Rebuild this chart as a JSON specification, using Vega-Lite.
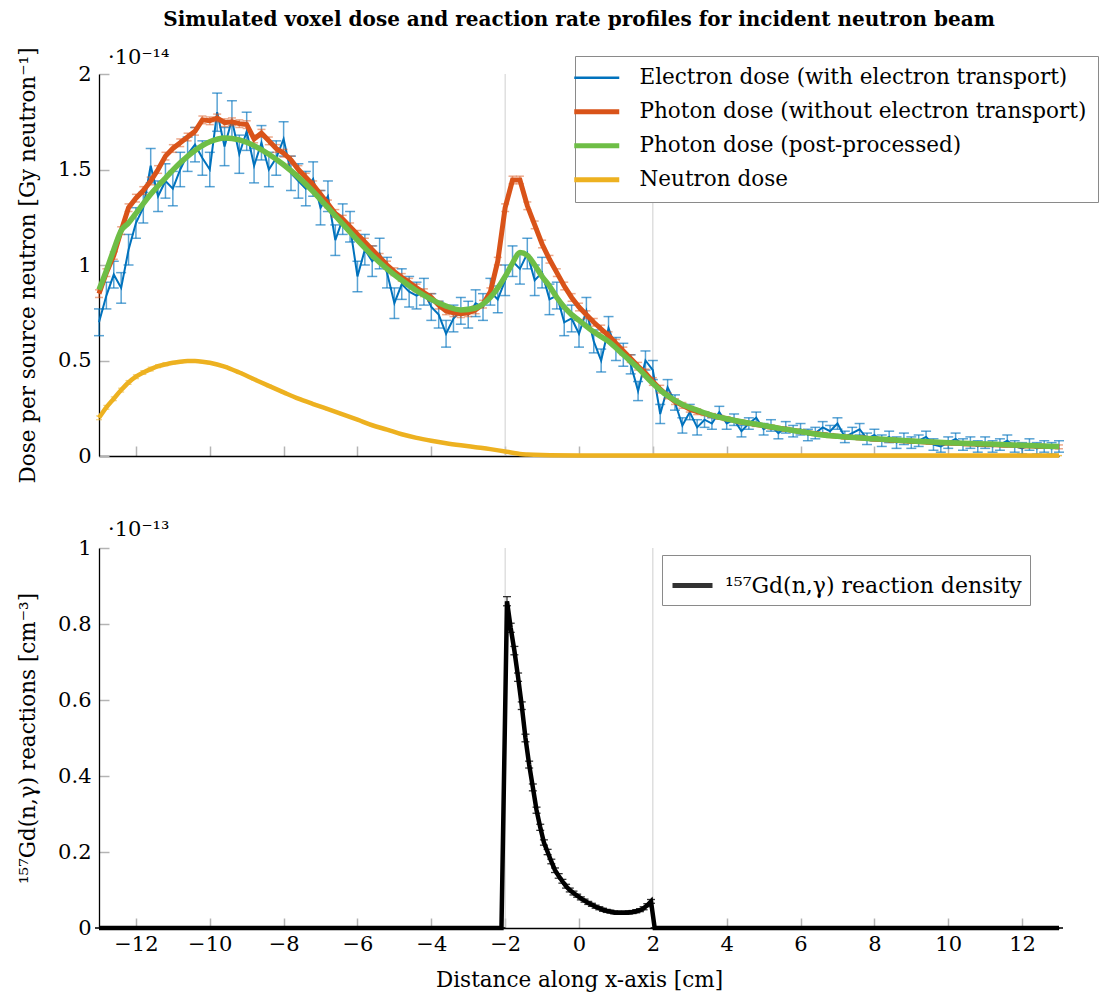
{
  "$schema": "https://vega.github.io/schema/vega-lite/v6.json",
  "background": "white",
  "padding": {"left": 17, "top": 9, "right": 2, "bottom": 2},
  "config": {
    "font": "DejaVu Serif",
    "view": {"stroke": null},
    "axis": {
      "labelFont": "DejaVu Serif", "titleFont": "DejaVu Serif",
      "labelFontSize": 21, "titleFontSize": 21.5, "titleFontWeight": "normal",
      "labelColor": "#000000", "titleColor": "#000000",
      "domainColor": "#000000", "domainWidth": 1.3,
      "tickColor": "#b4b4b4", "tickWidth": 1.5, "tickSize": -10,
      "grid": false, "labelPadding": 18
    },
    "title": {"font": "DejaVu Serif", "fontSize": 20, "fontWeight": "bold", "color": "#000000", "anchor": "middle", "offset": 17}
  },
  "resolve": {"scale": {"color": "independent"}, "legend": {"color": "independent"}},
  "spacing": 35,
  "datasets": {
    "grid": [{"x": -2}, {"x": 2}],
    "el": [
      {"x": -13.0, "v": 0.70, "e": 0.07}, {"x": -12.8, "v": 0.84, "e": 0.07}, {"x": -12.6, "v": 0.95, "e": 0.07}, {"x": -12.4, "v": 0.88, "e": 0.08},
      {"x": -12.2, "v": 1.08, "e": 0.08}, {"x": -12.0, "v": 1.22, "e": 0.08}, {"x": -11.8, "v": 1.30, "e": 0.08}, {"x": -11.6, "v": 1.52, "e": 0.09},
      {"x": -11.4, "v": 1.36, "e": 0.08}, {"x": -11.2, "v": 1.44, "e": 0.09}, {"x": -11.0, "v": 1.40, "e": 0.09}, {"x": -10.8, "v": 1.50, "e": 0.09},
      {"x": -10.6, "v": 1.58, "e": 0.09}, {"x": -10.4, "v": 1.63, "e": 0.09}, {"x": -10.2, "v": 1.56, "e": 0.09}, {"x": -10.0, "v": 1.50, "e": 0.09},
      {"x": -9.8, "v": 1.80, "e": 0.10}, {"x": -9.6, "v": 1.62, "e": 0.10}, {"x": -9.4, "v": 1.76, "e": 0.10}, {"x": -9.2, "v": 1.58, "e": 0.10},
      {"x": -9.0, "v": 1.70, "e": 0.10}, {"x": -8.8, "v": 1.52, "e": 0.09}, {"x": -8.6, "v": 1.64, "e": 0.09}, {"x": -8.4, "v": 1.50, "e": 0.09},
      {"x": -8.2, "v": 1.56, "e": 0.09}, {"x": -8.0, "v": 1.66, "e": 0.09}, {"x": -7.8, "v": 1.48, "e": 0.09}, {"x": -7.6, "v": 1.44, "e": 0.09},
      {"x": -7.4, "v": 1.40, "e": 0.09}, {"x": -7.2, "v": 1.45, "e": 0.09}, {"x": -7.0, "v": 1.30, "e": 0.09}, {"x": -6.8, "v": 1.36, "e": 0.08},
      {"x": -6.6, "v": 1.13, "e": 0.08}, {"x": -6.4, "v": 1.24, "e": 0.08}, {"x": -6.2, "v": 1.20, "e": 0.08}, {"x": -6.0, "v": 0.94, "e": 0.08},
      {"x": -5.8, "v": 1.08, "e": 0.08}, {"x": -5.6, "v": 1.02, "e": 0.08}, {"x": -5.4, "v": 1.06, "e": 0.08}, {"x": -5.2, "v": 0.96, "e": 0.08},
      {"x": -5.0, "v": 0.80, "e": 0.08}, {"x": -4.8, "v": 0.90, "e": 0.08}, {"x": -4.6, "v": 0.86, "e": 0.08}, {"x": -4.4, "v": 0.84, "e": 0.07},
      {"x": -4.2, "v": 0.86, "e": 0.07}, {"x": -4.0, "v": 0.78, "e": 0.07}, {"x": -3.8, "v": 0.74, "e": 0.07}, {"x": -3.6, "v": 0.64, "e": 0.07},
      {"x": -3.4, "v": 0.72, "e": 0.07}, {"x": -3.2, "v": 0.76, "e": 0.07}, {"x": -3.0, "v": 0.74, "e": 0.07}, {"x": -2.8, "v": 0.80, "e": 0.07},
      {"x": -2.6, "v": 0.78, "e": 0.07}, {"x": -2.4, "v": 0.86, "e": 0.07}, {"x": -2.2, "v": 0.82, "e": 0.07}, {"x": -2.0, "v": 0.92, "e": 0.08},
      {"x": -1.8, "v": 1.02, "e": 0.08}, {"x": -1.6, "v": 0.98, "e": 0.08}, {"x": -1.4, "v": 1.06, "e": 0.08}, {"x": -1.2, "v": 0.92, "e": 0.08},
      {"x": -1.0, "v": 0.96, "e": 0.08}, {"x": -0.8, "v": 0.82, "e": 0.08}, {"x": -0.6, "v": 0.84, "e": 0.07}, {"x": -0.4, "v": 0.70, "e": 0.07},
      {"x": -0.2, "v": 0.72, "e": 0.07}, {"x": 0.0, "v": 0.64, "e": 0.07}, {"x": 0.2, "v": 0.76, "e": 0.07}, {"x": 0.4, "v": 0.60, "e": 0.06},
      {"x": 0.6, "v": 0.50, "e": 0.06}, {"x": 0.8, "v": 0.67, "e": 0.06}, {"x": 1.0, "v": 0.56, "e": 0.06}, {"x": 1.2, "v": 0.53, "e": 0.06},
      {"x": 1.4, "v": 0.48, "e": 0.05}, {"x": 1.6, "v": 0.34, "e": 0.05}, {"x": 1.8, "v": 0.50, "e": 0.05}, {"x": 2.0, "v": 0.45, "e": 0.05},
      {"x": 2.2, "v": 0.22, "e": 0.05}, {"x": 2.4, "v": 0.36, "e": 0.04}, {"x": 2.6, "v": 0.28, "e": 0.04}, {"x": 2.8, "v": 0.16, "e": 0.04},
      {"x": 3.0, "v": 0.23, "e": 0.04}, {"x": 3.2, "v": 0.15, "e": 0.04}, {"x": 3.4, "v": 0.19, "e": 0.04}, {"x": 3.6, "v": 0.17, "e": 0.03},
      {"x": 3.8, "v": 0.23, "e": 0.03}, {"x": 4.0, "v": 0.17, "e": 0.03}, {"x": 4.2, "v": 0.19, "e": 0.03}, {"x": 4.4, "v": 0.13, "e": 0.03},
      {"x": 4.6, "v": 0.17, "e": 0.03}, {"x": 4.8, "v": 0.20, "e": 0.03}, {"x": 5.0, "v": 0.14, "e": 0.03}, {"x": 5.2, "v": 0.16, "e": 0.03},
      {"x": 5.4, "v": 0.12, "e": 0.03}, {"x": 5.6, "v": 0.15, "e": 0.03}, {"x": 5.8, "v": 0.13, "e": 0.03}, {"x": 6.0, "v": 0.14, "e": 0.03},
      {"x": 6.2, "v": 0.11, "e": 0.03}, {"x": 6.4, "v": 0.12, "e": 0.03}, {"x": 6.6, "v": 0.15, "e": 0.03}, {"x": 6.8, "v": 0.13, "e": 0.03},
      {"x": 7.0, "v": 0.17, "e": 0.03}, {"x": 7.2, "v": 0.10, "e": 0.03}, {"x": 7.4, "v": 0.12, "e": 0.03}, {"x": 7.6, "v": 0.14, "e": 0.03},
      {"x": 7.8, "v": 0.09, "e": 0.03}, {"x": 8.0, "v": 0.11, "e": 0.03}, {"x": 8.2, "v": 0.08, "e": 0.03}, {"x": 8.4, "v": 0.10, "e": 0.03},
      {"x": 8.6, "v": 0.07, "e": 0.03}, {"x": 8.8, "v": 0.09, "e": 0.03}, {"x": 9.0, "v": 0.07, "e": 0.03}, {"x": 9.2, "v": 0.08, "e": 0.03},
      {"x": 9.4, "v": 0.10, "e": 0.03}, {"x": 9.6, "v": 0.06, "e": 0.03}, {"x": 9.8, "v": 0.05, "e": 0.03}, {"x": 10.0, "v": 0.07, "e": 0.03},
      {"x": 10.2, "v": 0.09, "e": 0.03}, {"x": 10.4, "v": 0.06, "e": 0.03}, {"x": 10.6, "v": 0.07, "e": 0.03}, {"x": 10.8, "v": 0.05, "e": 0.03},
      {"x": 11.0, "v": 0.07, "e": 0.03}, {"x": 11.2, "v": 0.05, "e": 0.03}, {"x": 11.4, "v": 0.06, "e": 0.03}, {"x": 11.6, "v": 0.08, "e": 0.03},
      {"x": 11.8, "v": 0.05, "e": 0.03}, {"x": 12.0, "v": 0.04, "e": 0.03}, {"x": 12.2, "v": 0.06, "e": 0.03}, {"x": 12.4, "v": 0.04, "e": 0.03},
      {"x": 12.6, "v": 0.05, "e": 0.03}, {"x": 12.8, "v": 0.04, "e": 0.03}, {"x": 13.0, "v": 0.05, "e": 0.03}
    ],
    "ph": [
      {"x": -13.0, "v": 0.85, "e": 0.02}, {"x": -12.8, "v": 0.96, "e": 0.02}, {"x": -12.6, "v": 1.05, "e": 0.02}, {"x": -12.4, "v": 1.18, "e": 0.02},
      {"x": -12.2, "v": 1.30, "e": 0.02}, {"x": -12.0, "v": 1.35, "e": 0.02}, {"x": -11.8, "v": 1.39, "e": 0.02}, {"x": -11.6, "v": 1.44, "e": 0.02},
      {"x": -11.4, "v": 1.50, "e": 0.02}, {"x": -11.2, "v": 1.57, "e": 0.02}, {"x": -11.0, "v": 1.61, "e": 0.02}, {"x": -10.8, "v": 1.64, "e": 0.02},
      {"x": -10.6, "v": 1.67, "e": 0.02}, {"x": -10.4, "v": 1.70, "e": 0.02}, {"x": -10.2, "v": 1.76, "e": 0.02}, {"x": -10.0, "v": 1.755, "e": 0.02},
      {"x": -9.8, "v": 1.77, "e": 0.02}, {"x": -9.6, "v": 1.745, "e": 0.02}, {"x": -9.4, "v": 1.75, "e": 0.02}, {"x": -9.2, "v": 1.74, "e": 0.02},
      {"x": -9.0, "v": 1.735, "e": 0.02}, {"x": -8.8, "v": 1.66, "e": 0.02}, {"x": -8.6, "v": 1.69, "e": 0.02}, {"x": -8.4, "v": 1.65, "e": 0.02},
      {"x": -8.2, "v": 1.61, "e": 0.02}, {"x": -8.0, "v": 1.585, "e": 0.02}, {"x": -7.8, "v": 1.55, "e": 0.02}, {"x": -7.6, "v": 1.50, "e": 0.02},
      {"x": -7.4, "v": 1.46, "e": 0.02}, {"x": -7.2, "v": 1.42, "e": 0.02}, {"x": -7.0, "v": 1.37, "e": 0.02}, {"x": -6.8, "v": 1.32, "e": 0.02},
      {"x": -6.6, "v": 1.27, "e": 0.02}, {"x": -6.4, "v": 1.24, "e": 0.02}, {"x": -6.2, "v": 1.20, "e": 0.02}, {"x": -6.0, "v": 1.16, "e": 0.02},
      {"x": -5.8, "v": 1.12, "e": 0.02}, {"x": -5.6, "v": 1.08, "e": 0.02}, {"x": -5.4, "v": 1.04, "e": 0.02}, {"x": -5.2, "v": 1.00, "e": 0.02},
      {"x": -5.0, "v": 0.965, "e": 0.02}, {"x": -4.8, "v": 0.935, "e": 0.02}, {"x": -4.6, "v": 0.91, "e": 0.02}, {"x": -4.4, "v": 0.88, "e": 0.02},
      {"x": -4.2, "v": 0.855, "e": 0.02}, {"x": -4.0, "v": 0.83, "e": 0.02}, {"x": -3.8, "v": 0.79, "e": 0.02}, {"x": -3.6, "v": 0.76, "e": 0.02},
      {"x": -3.4, "v": 0.75, "e": 0.02}, {"x": -3.2, "v": 0.745, "e": 0.02}, {"x": -3.0, "v": 0.75, "e": 0.02}, {"x": -2.8, "v": 0.765, "e": 0.02},
      {"x": -2.6, "v": 0.795, "e": 0.02}, {"x": -2.4, "v": 0.86, "e": 0.02}, {"x": -2.2, "v": 1.02, "e": 0.02}, {"x": -2.0, "v": 1.30, "e": 0.02},
      {"x": -1.8, "v": 1.445, "e": 0.02}, {"x": -1.6, "v": 1.445, "e": 0.02}, {"x": -1.4, "v": 1.31, "e": 0.02}, {"x": -1.2, "v": 1.21, "e": 0.02},
      {"x": -1.0, "v": 1.11, "e": 0.02}, {"x": -0.8, "v": 1.03, "e": 0.02}, {"x": -0.6, "v": 0.96, "e": 0.02}, {"x": -0.4, "v": 0.89, "e": 0.02},
      {"x": -0.2, "v": 0.83, "e": 0.02}, {"x": 0.0, "v": 0.78, "e": 0.02}, {"x": 0.2, "v": 0.74, "e": 0.02}, {"x": 0.4, "v": 0.70, "e": 0.02},
      {"x": 0.6, "v": 0.665, "e": 0.02}, {"x": 0.8, "v": 0.63, "e": 0.02}, {"x": 1.0, "v": 0.59, "e": 0.02}, {"x": 1.2, "v": 0.55, "e": 0.02},
      {"x": 1.4, "v": 0.51, "e": 0.02}, {"x": 1.6, "v": 0.47, "e": 0.02}, {"x": 1.8, "v": 0.435, "e": 0.02}, {"x": 2.0, "v": 0.39, "e": 0.02},
      {"x": 2.2, "v": 0.35, "e": 0.02}, {"x": 2.4, "v": 0.315, "e": 0.015}, {"x": 2.6, "v": 0.285, "e": 0.015}, {"x": 2.8, "v": 0.265, "e": 0.015},
      {"x": 3.0, "v": 0.245, "e": 0.015}, {"x": 3.2, "v": 0.232, "e": 0.015}, {"x": 3.4, "v": 0.222, "e": 0.01}, {"x": 3.6, "v": 0.212, "e": 0.01},
      {"x": 3.8, "v": 0.203, "e": 0.01}, {"x": 4.0, "v": 0.195, "e": 0.01}, {"x": 4.4, "v": 0.178, "e": 0.01}, {"x": 4.8, "v": 0.165, "e": 0.01},
      {"x": 5.2, "v": 0.152, "e": 0.01}, {"x": 5.6, "v": 0.14, "e": 0.01}, {"x": 6.0, "v": 0.128, "e": 0.01}, {"x": 6.4, "v": 0.117, "e": 0.01},
      {"x": 6.8, "v": 0.107, "e": 0.01}, {"x": 7.2, "v": 0.1, "e": 0.01}, {"x": 7.6, "v": 0.095, "e": 0.01}, {"x": 8.0, "v": 0.089, "e": 0.01},
      {"x": 8.5, "v": 0.083, "e": 0.01}, {"x": 9.0, "v": 0.077, "e": 0.01}, {"x": 9.5, "v": 0.072, "e": 0.01}, {"x": 10.0, "v": 0.068, "e": 0.01},
      {"x": 10.5, "v": 0.064, "e": 0.01}, {"x": 11.0, "v": 0.06, "e": 0.01}, {"x": 11.5, "v": 0.057, "e": 0.01}, {"x": 12.0, "v": 0.054, "e": 0.01},
      {"x": 12.5, "v": 0.051, "e": 0.01}, {"x": 13.0, "v": 0.048, "e": 0.01}
    ],
    "pp": [
      {"x": -13.0, "v": 0.87}, {"x": -12.8, "v": 0.97}, {"x": -12.6, "v": 1.08}, {"x": -12.4, "v": 1.18}, {"x": -12.2, "v": 1.22},
      {"x": -12.0, "v": 1.27}, {"x": -11.6, "v": 1.37}, {"x": -11.2, "v": 1.455}, {"x": -10.8, "v": 1.535}, {"x": -10.4, "v": 1.60},
      {"x": -10.0, "v": 1.645}, {"x": -9.6, "v": 1.665}, {"x": -9.2, "v": 1.655}, {"x": -8.8, "v": 1.625}, {"x": -8.4, "v": 1.58},
      {"x": -8.0, "v": 1.525}, {"x": -7.6, "v": 1.46}, {"x": -7.2, "v": 1.385}, {"x": -6.8, "v": 1.30}, {"x": -6.4, "v": 1.215},
      {"x": -6.0, "v": 1.13}, {"x": -5.6, "v": 1.05}, {"x": -5.2, "v": 0.98}, {"x": -4.8, "v": 0.92}, {"x": -4.4, "v": 0.865},
      {"x": -4.0, "v": 0.82}, {"x": -3.6, "v": 0.785}, {"x": -3.2, "v": 0.765}, {"x": -2.8, "v": 0.775}, {"x": -2.4, "v": 0.83},
      {"x": -2.0, "v": 0.94}, {"x": -1.8, "v": 1.01}, {"x": -1.6, "v": 1.065}, {"x": -1.4, "v": 1.05}, {"x": -1.2, "v": 1.0},
      {"x": -1.0, "v": 0.94}, {"x": -0.8, "v": 0.89}, {"x": -0.6, "v": 0.83}, {"x": -0.4, "v": 0.78}, {"x": -0.2, "v": 0.74},
      {"x": 0.0, "v": 0.71}, {"x": 0.4, "v": 0.65}, {"x": 0.8, "v": 0.60}, {"x": 1.2, "v": 0.53}, {"x": 1.6, "v": 0.46},
      {"x": 2.0, "v": 0.38}, {"x": 2.4, "v": 0.315}, {"x": 2.8, "v": 0.27}, {"x": 3.2, "v": 0.24}, {"x": 3.6, "v": 0.213},
      {"x": 4.0, "v": 0.195}, {"x": 4.4, "v": 0.179}, {"x": 5.0, "v": 0.16}, {"x": 5.4, "v": 0.146}, {"x": 6.0, "v": 0.128},
      {"x": 6.6, "v": 0.11}, {"x": 7.0, "v": 0.103}, {"x": 8.0, "v": 0.09}, {"x": 9.0, "v": 0.079}, {"x": 10.0, "v": 0.07},
      {"x": 11.0, "v": 0.063}, {"x": 12.0, "v": 0.056}, {"x": 13.0, "v": 0.05}
    ],
    "nd": [
      {"x": -13.0, "v": 0.20, "e": 0.01}, {"x": -12.8, "v": 0.255, "e": 0.01}, {"x": -12.6, "v": 0.30, "e": 0.01}, {"x": -12.4, "v": 0.345, "e": 0.01},
      {"x": -12.2, "v": 0.385, "e": 0.01}, {"x": -12.0, "v": 0.415, "e": 0.01}, {"x": -11.8, "v": 0.437, "e": 0.01}, {"x": -11.6, "v": 0.455, "e": 0.01},
      {"x": -11.4, "v": 0.47, "e": 0.008}, {"x": -11.2, "v": 0.48, "e": 0.008}, {"x": -11.0, "v": 0.488, "e": 0.006}, {"x": -10.8, "v": 0.494, "e": 0.006},
      {"x": -10.6, "v": 0.497, "e": 0.005}, {"x": -10.4, "v": 0.497, "e": 0.005}, {"x": -10.2, "v": 0.494, "e": 0.005}, {"x": -10.0, "v": 0.488, "e": 0.005},
      {"x": -9.6, "v": 0.468, "e": 0.004}, {"x": -9.2, "v": 0.437, "e": 0.004}, {"x": -8.8, "v": 0.402, "e": 0.004}, {"x": -8.4, "v": 0.367, "e": 0.004},
      {"x": -8.0, "v": 0.333, "e": 0.004}, {"x": -7.6, "v": 0.30, "e": 0.003}, {"x": -7.2, "v": 0.272, "e": 0.003}, {"x": -6.8, "v": 0.245, "e": 0.003},
      {"x": -6.4, "v": 0.218, "e": 0.003}, {"x": -6.0, "v": 0.19, "e": 0.003}, {"x": -5.6, "v": 0.161, "e": 0.003}, {"x": -5.2, "v": 0.138, "e": 0.003},
      {"x": -4.8, "v": 0.114, "e": 0.002}, {"x": -4.4, "v": 0.095, "e": 0.002}, {"x": -4.0, "v": 0.08, "e": 0.002}, {"x": -3.6, "v": 0.067, "e": 0.002},
      {"x": -3.2, "v": 0.056, "e": 0.002}, {"x": -2.8, "v": 0.046, "e": 0.002}, {"x": -2.4, "v": 0.036, "e": 0.002}, {"x": -2.0, "v": 0.024, "e": 0.002},
      {"x": -1.8, "v": 0.017, "e": 0.002}, {"x": -1.6, "v": 0.011, "e": 0.002}, {"x": -1.4, "v": 0.008, "e": 0.001}, {"x": -1.0, "v": 0.005, "e": 0.001},
      {"x": 0.0, "v": 0.003, "e": 0.001}, {"x": 4.0, "v": 0.002, "e": 0.001}, {"x": 13.0, "v": 0.002, "e": 0.001}
    ],
    "gd": [
      {"x": -13.0, "v": 0, "e": 0}, {"x": -2.1, "v": 0, "e": 0},
      {"x": -1.95, "v": 0.86, "e": 0.012}, {"x": -1.85, "v": 0.79, "e": 0.012}, {"x": -1.75, "v": 0.73, "e": 0.011}, {"x": -1.65, "v": 0.66, "e": 0.011},
      {"x": -1.55, "v": 0.585, "e": 0.01}, {"x": -1.45, "v": 0.50, "e": 0.01}, {"x": -1.35, "v": 0.43, "e": 0.009}, {"x": -1.25, "v": 0.37, "e": 0.009},
      {"x": -1.15, "v": 0.31, "e": 0.008}, {"x": -1.05, "v": 0.265, "e": 0.008}, {"x": -0.95, "v": 0.225, "e": 0.007}, {"x": -0.85, "v": 0.20, "e": 0.007},
      {"x": -0.75, "v": 0.175, "e": 0.006}, {"x": -0.65, "v": 0.152, "e": 0.006}, {"x": -0.55, "v": 0.137, "e": 0.006}, {"x": -0.45, "v": 0.123, "e": 0.005},
      {"x": -0.35, "v": 0.11, "e": 0.005}, {"x": -0.25, "v": 0.10, "e": 0.005}, {"x": -0.15, "v": 0.092, "e": 0.005}, {"x": -0.05, "v": 0.085, "e": 0.004},
      {"x": 0.05, "v": 0.078, "e": 0.004}, {"x": 0.15, "v": 0.072, "e": 0.004}, {"x": 0.25, "v": 0.066, "e": 0.004}, {"x": 0.35, "v": 0.061, "e": 0.004},
      {"x": 0.45, "v": 0.056, "e": 0.004}, {"x": 0.55, "v": 0.052, "e": 0.004}, {"x": 0.65, "v": 0.048, "e": 0.004}, {"x": 0.75, "v": 0.045, "e": 0.004},
      {"x": 0.85, "v": 0.043, "e": 0.004}, {"x": 0.95, "v": 0.041, "e": 0.004}, {"x": 1.05, "v": 0.04, "e": 0.004}, {"x": 1.15, "v": 0.04, "e": 0.004},
      {"x": 1.25, "v": 0.04, "e": 0.004}, {"x": 1.35, "v": 0.041, "e": 0.004}, {"x": 1.45, "v": 0.042, "e": 0.004}, {"x": 1.55, "v": 0.044, "e": 0.004},
      {"x": 1.65, "v": 0.047, "e": 0.004}, {"x": 1.75, "v": 0.052, "e": 0.004}, {"x": 1.85, "v": 0.06, "e": 0.004}, {"x": 1.95, "v": 0.07, "e": 0.005},
      {"x": 2.05, "v": 0, "e": 0}, {"x": 13.0, "v": 0, "e": 0}
    ]
  },
  "vconcat": [
    {
      "width": 960,
      "height": 382,
      "title": {"text": "Simulated voxel dose and reaction rate profiles for incident neutron beam"},
      "layer": [
        {
          "data": {"name": "grid"},
          "mark": {"type": "rule", "color": "#cfcfcf", "strokeWidth": 1},
          "encoding": {
            "x": {"field": "x", "type": "quantitative", "scale": {"domain": [-13, 13], "nice": false, "zero": false},
                  "axis": {"values": [-12, -10, -8, -6, -4, -2, 0, 2, 4, 6, 8, 10, 12], "labels": false, "title": null}}
          }
        },
        {
          "data": {"name": "el"},
          "mark": {"type": "errorbar", "ticks": {"size": 10, "thickness": 1.5}, "thickness": 1.5, "opacity": 0.65},
          "encoding": {
            "x": {"field": "x", "type": "quantitative", "title": null},
            "y": {"field": "v", "type": "quantitative", "scale": {"domain": [0, 2], "nice": false}, "title": "Dose per source neutron [Gy neutron⁻¹]",
                  "axis": {"values": [0, 0.5, 1, 1.5, 2], "format": "~g", "title": "Dose per source neutron [Gy neutron⁻¹]", "titlePadding": 18}},
            "yError": {"field": "e"},
            "color": {
              "datum": "Electron dose (with electron transport)",
              "scale": {
                "domain": ["Electron dose (with electron transport)", "Photon dose (without electron transport)", "Photon dose (post-processed)", "Neutron dose"],
                "range": ["#0072BD", "#D95319", "#6EBE46", "#EDB120"]
              },
              "legend": {
                "orient": "none", "legendX": 476, "legendY": -18, "title": null,
                "strokeColor": "#8a8a8a", "fillColor": "#ffffff", "padding": 11,
                "labelFont": "DejaVu Serif", "labelFontSize": 21.5, "labelColor": "#000000", "labelLimit": 700,
                "symbolType": "stroke", "symbolSize": 2025, "symbolStrokeWidth": 5, "labelOffset": 32, "rowPadding": 11,
                "symbolOpacity": 1,
                "encode": {"symbols": {"update": {"opacity": {"value": 1}, "strokeWidth": {"signal": "datum.label === 'Electron dose (with electron transport)' ? 2.5 : 5"}}}}
              }
            }
          }
        },
        {
          "data": {"name": "el"},
          "mark": {"type": "line", "strokeWidth": 2},
          "encoding": {
            "x": {"field": "x", "type": "quantitative", "title": null},
            "y": {"field": "v", "type": "quantitative", "title": "Dose per source neutron [Gy neutron⁻¹]"},
            "color": {"datum": "Electron dose (with electron transport)"}
          }
        },
        {
          "data": {"name": "ph"},
          "mark": {"type": "errorbar", "ticks": {"size": 8, "thickness": 1.5}, "thickness": 1.5, "opacity": 0.5},
          "encoding": {
            "x": {"field": "x", "type": "quantitative", "title": null},
            "y": {"field": "v", "type": "quantitative", "title": "Dose per source neutron [Gy neutron⁻¹]"},
            "yError": {"field": "e"},
            "color": {"datum": "Photon dose (without electron transport)"}
          }
        },
        {
          "data": {"name": "ph"},
          "mark": {"type": "line", "strokeWidth": 5},
          "encoding": {
            "x": {"field": "x", "type": "quantitative", "title": null},
            "y": {"field": "v", "type": "quantitative", "title": "Dose per source neutron [Gy neutron⁻¹]"},
            "color": {"datum": "Photon dose (without electron transport)"}
          }
        },
        {
          "data": {"name": "pp"},
          "mark": {"type": "line", "strokeWidth": 5.5, "interpolate": "monotone"},
          "encoding": {
            "x": {"field": "x", "type": "quantitative", "title": null},
            "y": {"field": "v", "type": "quantitative", "title": "Dose per source neutron [Gy neutron⁻¹]"},
            "color": {"datum": "Photon dose (post-processed)"}
          }
        },
        {
          "data": {"name": "nd"},
          "mark": {"type": "errorbar", "ticks": {"size": 6, "thickness": 1.2}, "thickness": 1.2, "opacity": 0.6},
          "encoding": {
            "x": {"field": "x", "type": "quantitative", "title": null},
            "y": {"field": "v", "type": "quantitative", "title": "Dose per source neutron [Gy neutron⁻¹]"},
            "yError": {"field": "e"},
            "color": {"datum": "Neutron dose"}
          }
        },
        {
          "data": {"name": "nd"},
          "mark": {"type": "line", "strokeWidth": 4.5, "interpolate": "monotone"},
          "encoding": {
            "x": {"field": "x", "type": "quantitative", "title": null},
            "y": {"field": "v", "type": "quantitative", "title": "Dose per source neutron [Gy neutron⁻¹]"},
            "color": {"datum": "Neutron dose"}
          }
        },
        {
          "data": {"values": [{"t": "·10⁻¹⁴"}]},
          "mark": {"type": "text", "align": "left", "baseline": "bottom", "dx": 9, "dy": -6, "fontSize": 21, "font": "DejaVu Serif", "color": "#000000"},
          "encoding": {
            "x": {"datum": -13, "type": "quantitative"},
            "y": {"datum": 2, "type": "quantitative"},
            "text": {"field": "t"}
          }
        }
      ]
    },
    {
      "width": 960,
      "height": 380,
      "layer": [
        {
          "data": {"name": "grid"},
          "mark": {"type": "rule", "color": "#cfcfcf", "strokeWidth": 1},
          "encoding": {
            "x": {"field": "x", "type": "quantitative", "scale": {"domain": [-13, 13], "nice": false, "zero": false}, "title": "Distance along x-axis [cm]",
                  "axis": {"values": [-12, -10, -8, -6, -4, -2, 0, 2, 4, 6, 8, 10, 12], "title": "Distance along x-axis [cm]", "titlePadding": 15, "labelPadding": 15}}
          }
        },
        {
          "data": {"name": "gd"},
          "mark": {"type": "errorbar", "ticks": {"size": 8, "thickness": 1.3}, "thickness": 1.3, "opacity": 0.8},
          "encoding": {
            "x": {"field": "x", "type": "quantitative", "title": "Distance along x-axis [cm]"},
            "y": {"field": "v", "type": "quantitative", "scale": {"domain": [0, 1], "nice": false}, "title": "¹⁵⁷Gd(n,γ) reactions [cm⁻³]",
                  "axis": {"values": [0, 0.2, 0.4, 0.6, 0.8, 1], "format": "~g", "title": "¹⁵⁷Gd(n,γ) reactions [cm⁻³]", "titlePadding": 18}},
            "yError": {"field": "e"},
            "color": {
              "datum": "¹⁵⁷Gd(n,γ) reaction density",
              "scale": {"domain": ["¹⁵⁷Gd(n,γ) reaction density"], "range": ["#000000"]},
              "legend": {
                "orient": "none", "legendX": 563, "legendY": 7, "title": null,
                "strokeColor": "#8a8a8a", "fillColor": "#ffffff", "padding": 8,
                "labelFont": "DejaVu Serif", "labelFontSize": 22, "labelColor": "#000000", "labelLimit": 700,
                "symbolType": "stroke", "symbolSize": 1600, "symbolStrokeWidth": 5, "labelOffset": 10,
                "encode": {"symbols": {"update": {"opacity": {"value": 1}}}}
              }
            }
          }
        },
        {
          "data": {"name": "gd"},
          "mark": {"type": "line", "strokeWidth": 4.5},
          "encoding": {
            "x": {"field": "x", "type": "quantitative", "title": "Distance along x-axis [cm]"},
            "y": {"field": "v", "type": "quantitative", "title": "¹⁵⁷Gd(n,γ) reactions [cm⁻³]"},
            "color": {"datum": "¹⁵⁷Gd(n,γ) reaction density"}
          }
        },
        {
          "data": {"values": [{"t": "·10⁻¹³"}]},
          "mark": {"type": "text", "align": "left", "baseline": "bottom", "dx": 9, "dy": -8, "fontSize": 21, "font": "DejaVu Serif", "color": "#000000"},
          "encoding": {
            "x": {"datum": -13, "type": "quantitative"},
            "y": {"datum": 1, "type": "quantitative"},
            "text": {"field": "t"}
          }
        }
      ]
    }
  ]
}
